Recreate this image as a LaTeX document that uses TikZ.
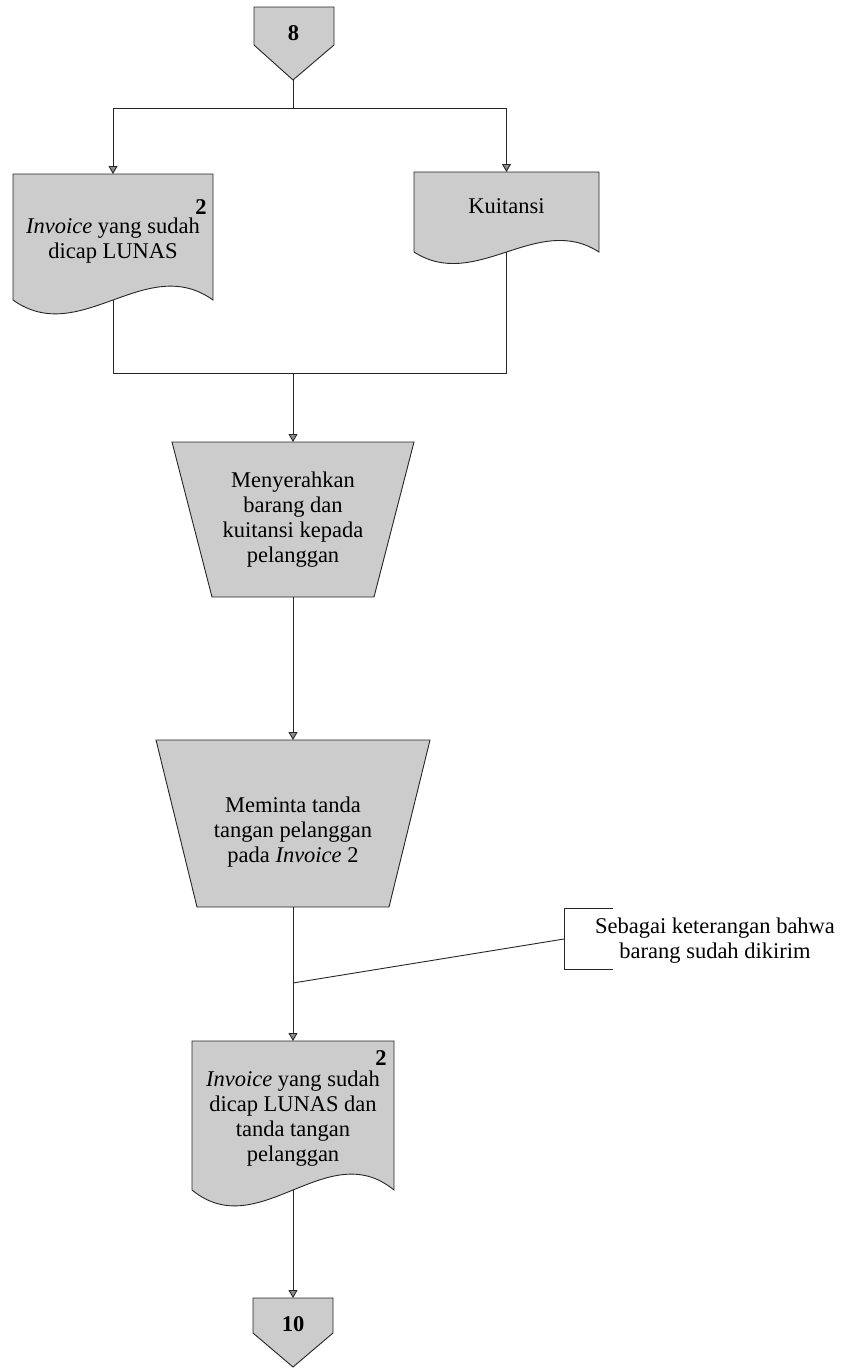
\documentclass[tikz,border=0pt]{standalone}
\usepackage{fontspec}
\setmainfont{Liberation Serif}
\usetikzlibrary{calc,arrows.meta}

\tikzset{
  shapefill/.style={draw=black!85, line width=0.9pt, fill=black!20, line join=miter},
  txt/.style={font=\fontsize{22.5}{25}\selectfont, align=center, inner sep=0pt},
  num/.style={txt, font=\fontsize{22.5}{25}\selectfont\bfseries},
  frame/.style={draw=none, fill=none, inner sep=0pt, outer sep=0pt},
  flow/.style={draw=black!85, line width=0.9pt},
  arr/.style={flow, -{Triangle[length=8pt,width=9pt,fill=black!45]}},
}

% document symbol with a wavy lower edge, drawn on a frame node
\newcommand{\docoutline}[3]{%
  \draw[shapefill] (#1.north west) -- (#1.north east) -- (#1.south east)
    .. controls +(-#2,-#3) and +(#2,#3) .. (#1.south west) -- cycle;}

\begin{document}
\begin{tikzpicture}[x=1pt,y=-1pt]
\useasboundingbox (0,0) rectangle (841,1368);

% off-page connector 8
\draw[shapefill] (254,7) -- (334,7) -- (334,45) -- (293,80) -- (254,45) -- cycle;
\node[num] (c8) at (293.5,33) {8};
\coordinate (c8bot) at (293,80);
\coordinate (split) at (293,108);

% documents after the split
\node[frame, minimum width=200pt, minimum height=126pt] (d1) at (113,237) {};
\docoutline{d1}{67}{48}
\node[num] (d1n) at (201,207) {2};
\node[txt] (d1t) at (113,241) {\textit{Invoice} yang sudah\\dicap LUNAS};

\node[frame, minimum width=185pt, minimum height=80pt] (d2) at (506.5,212) {};
\docoutline{d2}{62}{40}
\node[txt] (d2t) at (506.5,206) {Kuitansi};

\draw[flow] (c8bot) -- (split);
\draw[arr] (split) -| (d1.north);
\draw[arr] (split) -| (d2.north);

% manual operation: hand over goods and receipt
\coordinate (join) at (293,373);
\node[frame, minimum width=242pt, minimum height=155pt] (p1) at (293,519.5) {};
\draw[shapefill] (p1.north west) -- (p1.north east)
  -- ($(p1.south east)+(-40,0)$) -- ($(p1.south west)+(40,0)$) -- cycle;
\node[txt] (p1t) at (293,520) {Menyerahkan\\barang dan\\kuitansi kepada\\pelanggan};

\draw[flow] (d1.south) -- (d1.south |- join) -- (d2.south |- join) -- (d2.south);
\draw[arr] (join) -- (p1.north);

% manual operation: customer signature
\node[frame, minimum width=274pt, minimum height=167pt] (p2) at (293,823.5) {};
\draw[shapefill] (p2.north west) -- (p2.north east)
  -- ($(p2.south east)+(-41,0)$) -- ($(p2.south west)+(41,0)$) -- cycle;
\node[txt] (p2t) at (293,832) {Meminta tanda\\tangan pelanggan\\pada \textit{Invoice} 2};

\draw[arr] (p1.south) -- (p2.north);

% signed invoice
\node[frame, minimum width=202pt, minimum height=149pt] (d3) at (293,1115.5) {};
\docoutline{d3}{67}{55}
\node[num] (d3n) at (381,1058) {2};
\node[txt] (d3t) at (293,1119) {\textit{Invoice} yang sudah\\dicap LUNAS dan\\tanda tangan\\pelanggan};

\draw[arr] (p2.south) -- (d3.north);

% annotation
\node[txt] (note) at (715,941) {Sebagai keterangan bahwa\\barang sudah dikirim};
\coordinate (nb) at (564,939);
\coordinate (meet) at (293,983);
\draw[flow] (613,908) -- (564,908) -- (564,969) -- (613,969);
\draw[flow] (nb) -- (meet);

% off-page connector 10
\draw[shapefill] (253,1298) -- (333,1298) -- (333,1333) -- (293,1367) -- (253,1333) -- cycle;
\node[num] (c10) at (293,1324) {10};
\coordinate (c10top) at (293,1298);
\draw[arr] (d3.south) -- (c10top);

\end{tikzpicture}
\end{document}
